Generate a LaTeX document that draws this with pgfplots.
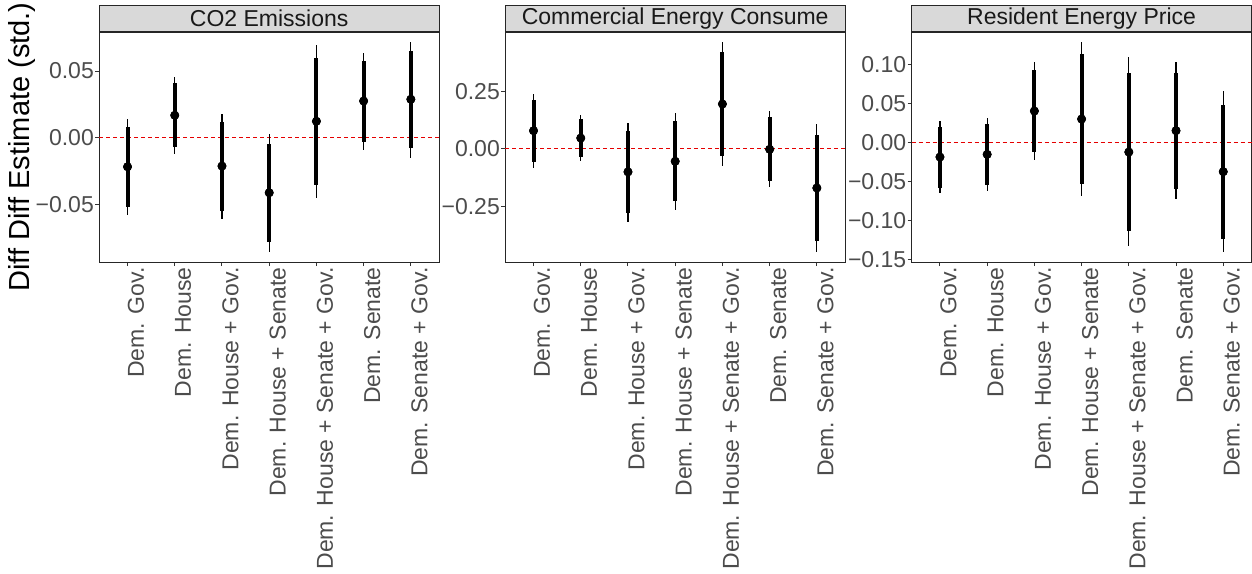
\documentclass[border=0pt]{standalone}
\usepackage{fontspec}
\setmainfont{Liberation Sans}
\usepackage{pgfplots}
\usepackage{pgfplotstable}
\pgfplotsset{compat=1.18}

\pgfplotstableread{
x est lo90 hi90 lo95 hi95
0 -0.0218 -0.0520 0.0083 -0.0581 0.0143
1 0.0168 -0.0073 0.0408 -0.0123 0.0455
2 -0.0213 -0.0548 0.0115 -0.0613 0.0180
3 -0.0413 -0.0783 -0.0048 -0.0858 0.0030
4 0.0123 -0.0353 0.0595 -0.0450 0.0693
5 0.0275 -0.0033 0.0578 -0.0093 0.0638
6 0.0288 -0.0078 0.0650 -0.0150 0.0720
}\tblA
\pgfplotstableread{
x est lo90 hi90 lo95 hi95
0 0.078 -0.058 0.210 -0.084 0.238
1 0.046 -0.036 0.130 -0.055 0.148
2 -0.101 -0.280 0.075 -0.317 0.113
3 -0.055 -0.229 0.120 -0.265 0.155
4 0.194 -0.032 0.420 -0.077 0.465
5 -0.003 -0.139 0.136 -0.168 0.165
6 -0.171 -0.403 0.059 -0.449 0.106
}\tblB
\pgfplotstableread{
x est lo90 hi90 lo95 hi95
0 -0.0184 -0.0577 0.0201 -0.0650 0.0282
1 -0.0150 -0.0543 0.0244 -0.0620 0.0320
2 0.0406 -0.0120 0.0927 -0.0218 0.1030
3 0.0303 -0.0526 0.1141 -0.0688 0.1295
4 -0.0120 -0.1137 0.0893 -0.1330 0.1094
5 0.0154 -0.0590 0.0893 -0.0727 0.1030
6 -0.0372 -0.1235 0.0487 -0.1398 0.0658
}\tblC

\newcommand{\lblfont}{\fontsize{11.5}{13}\selectfont}

\pgfplotsset{
  panel/.style={
    scale only axis, width=170pt, height=115pt, anchor=south west,
    xmin=-0.6, xmax=6.6,
    scaled y ticks=false,
    xtick={0,1,2,3,4,5,6},
    xticklabels={Dem. Gov., Dem. House, Dem. House + Gov., Dem. House + Senate, Dem. House + Senate + Gov., Dem. Senate, Dem. Senate + Gov.},
    axis line style={black!85, line width=0.5pt},
    tick style={black!80, line width=0.5pt},
    major tick length=2pt, tick align=outside,
    xtick pos=bottom, ytick pos=left,
    ticklabel style={font=\lblfont, text=black!70},
    xticklabel style={rotate=90, anchor=north east, inner sep=0pt, xshift=-0.5pt},
    yticklabel style={inner sep=0.5pt},
    every axis title shift=0pt,
    title style={at={(0.5,1)}, anchor=south, yshift=0pt, fill=black!15, draw=black!85, line width=0.5pt,
      minimum width=170pt, minimum height=13pt, inner sep=0pt, text=black!90, font=\lblfont},
    clip=false,
  },
  thinbar/.style={only marks, mark=none,
    error bars/.cd, y dir=both, y explicit, error mark=none,
    error bar style={line width=0.6pt, black}},
  thickbar/.style={only marks, mark=none,
    error bars/.cd, y dir=both, y explicit, error mark=none,
    error bar style={line width=2pt, black}},
}

\newcommand{\drawpanel}[1]{%
  \addplot[color=red!90!black, dash pattern=on 2pt off 1.5pt, line width=0.5pt, mark=none] coordinates {(-0.6,0) (6.6,0)};
  \addplot[thinbar] table[x=x, y=est, y error plus expr=\thisrow{hi95}-\thisrow{est}, y error minus expr=\thisrow{est}-\thisrow{lo95}] {#1};
  \addplot[thickbar] table[x=x, y=est, y error plus expr=\thisrow{hi90}-\thisrow{est}, y error minus expr=\thisrow{est}-\thisrow{lo90}] {#1};
  \addplot[only marks, mark=*, mark size=1.4pt, black] table[x=x, y=est] {#1};
}

\begin{document}
\begin{tikzpicture}
\useasboundingbox (0,0) rectangle (626pt,-286.5pt);

\begin{axis}[panel, at={(49.6pt,-131pt)},
  ymin=-0.09325, ymax=0.07925,
  ytick={-0.05,0,0.05}, yticklabels={−0.05,0.00,0.05},
  title={CO2 Emissions},
  ylabel={Diff Diff Estimate (std.)},
  ylabel style={at={(axis description cs:-0.2265,0.5)}, anchor=center, font=\fontsize{14.5}{16}\selectfont, text=black, inner sep=0pt},
]
\drawpanel{\tblA}
\end{axis}

\begin{axis}[panel, at={(252.6pt,-131pt)},
  ymin=-0.4928, ymax=0.507,
  ytick={-0.25,0,0.25}, yticklabels={−0.25,0.00,0.25},
  title={Commercial Energy Consume},
]
\drawpanel{\tblB}
\end{axis}

\begin{axis}[panel, at={(455.8pt,-131pt)},
  ymin=-0.153, ymax=0.1419,
  ytick={-0.15,-0.1,-0.05,0,0.05,0.1}, yticklabels={−0.15,−0.10,−0.05,0.00,0.05,0.10},
  title={Resident Energy Price},
]
\drawpanel{\tblC}
\end{axis}
\end{tikzpicture}
\end{document}
